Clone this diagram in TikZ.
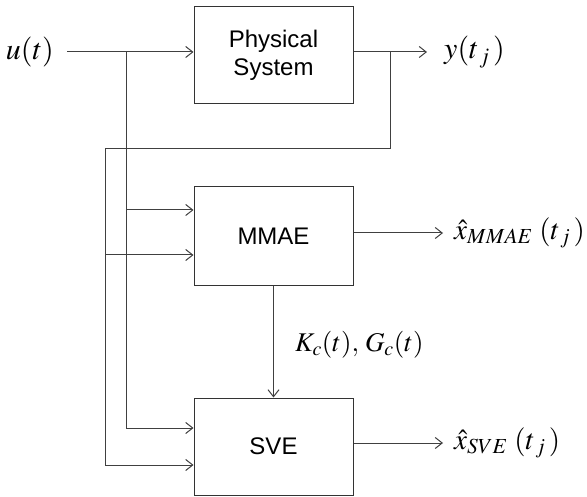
\documentclass[tikz,border=0pt]{standalone}
\usepackage{mathptmx}
\usepackage[no-math]{fontspec}
\newfontfamily\arialfont{Liberation Sans}
\usepackage{tikz}
\usetikzlibrary{
    positioning,
    arrows.meta,
}
\definecolor{wiregray}{RGB}{64,64,64}
\tikzset{
    % Block styles
    block/.style={rectangle, draw=black!80, line width=1pt, minimum width=159pt,
                  minimum height=97pt, align=center,
                  font=\arialfont\fontsize{24}{28}\selectfont},
    % Arrow styles
    wire/.style={draw=wiregray, line width=1pt},
    arrow/.style={wire, -{Straight Barb[length=7pt, width=11pt]}},
    % Signal labels
    sig/.style={inner sep=0pt, font=\fontsize{30}{34}\selectfont},
}

\begin{document}
\begin{tikzpicture}[x=1pt, y=-1pt]
    \useasboundingbox (0,0) rectangle (587,497);

    % Blocks
    \node[block] (phys) at (273.5,55.5) {Physical\\System};
    \node[block, minimum height=99pt] (mmae) at (273.5,236.5) {MMAE};
    \node[block] (sve) at (273.5,446.5) {SVE};

    % Signals
    \node[sig, anchor=east, inner xsep=13pt] (uin) at (67,52) {$u(t)$};
    \node[sig, anchor=west, inner xsep=17pt] (yout) at (427,52) {$y(t_{\,j}\,)$};
    \node[sig, anchor=west, inner xsep=11pt, font=\fontsize{29}{32}\selectfont]
        (xm) at (443,233) {$\hat{x}_{MMAE}\;(t_{\,j}\,)$};
    \node[sig, anchor=west, inner xsep=11pt, font=\fontsize{29}{32}\selectfont]
        (xs) at (443,443) {$\hat{x}_{SVE}\;(t_{\,j}\,)$};
    \node[sig, anchor=west, font=\fontsize{27}{32}\selectfont]
        (gains) at (295,345) {$K_c(t),\,G_c(t)$};

    % Branch points
    \coordinate (ub) at (126,52);
    \coordinate (yb) at (390,52);
    \coordinate (fb) at (105,149);
    \coordinate (m1) at ([yshift=26.5pt]mmae.west);
    \coordinate (m2) at ([yshift=-18.5pt]mmae.west);
    \coordinate (s1) at ([yshift=18.5pt]sve.west);
    \coordinate (s2) at ([yshift=-18.5pt]sve.west);

    % Input u(t)
    \draw[wire] (uin) -- (ub);
    \draw[arrow] (ub) -- (ub -| phys.west);
    \draw[arrow] (ub) |- (s1);
    \draw[arrow] (m1 -| ub) -- (m1);

    % Measurement y(t_j)
    \draw[wire] (ub -| phys.east) -- (yb);
    \draw[arrow] (yb) -- (yout);
    \draw[wire] (yb) |- (fb);
    \draw[arrow] (fb) |- (s2);
    \draw[arrow] (m2 -| fb) -- (m2);

    % Estimator outputs
    \draw[arrow] (mmae) -- (sve);
    \draw[arrow] (xm.west -| mmae.east) -- (xm);
    \draw[arrow] (xs.west -| sve.east) -- (xs);
\end{tikzpicture}
\end{document}
